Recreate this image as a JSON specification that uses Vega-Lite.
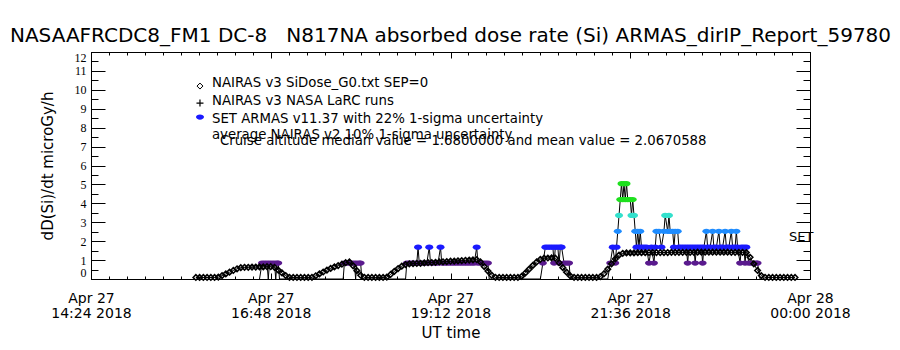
{
  "$schema": "https://vega.github.io/schema/vega-lite/v6.json",
  "width": 719,
  "height": 227,
  "autosize": {"type": "none"},
  "padding": {"left": 91, "top": 52, "right": 90, "bottom": 71},
  "background": "white",
  "title": {"text": "NASAAFRCDC8_FM1 DC-8\u00a0\u00a0\u00a0N817NA absorbed dose rate (Si) ARMAS_dirIP_Report_59780", "font": "DejaVu Sans", "fontSize": 20, "fontWeight": "normal", "color": "black", "anchor": "middle", "frame": "group", "baseline": "alphabetic", "offset": -7, "dy": 4},
  "config": {"font": "DejaVu Sans", "view": {"stroke": null}, "axis": {"grid": false, "domainColor": "black", "tickColor": "black", "labelColor": "black", "titleColor": "black", "titleFontWeight": "normal", "domainWidth": 1, "tickWidth": 1}},
  "datasets": {
    "nairas": [
      {"t":"2018-04-27T15:48:00Z","v":0.08},{"t":"2018-04-27T15:51:00Z","v":0.08},{"t":"2018-04-27T15:54:00Z","v":0.08},{"t":"2018-04-27T15:57:00Z","v":0.08},{"t":"2018-04-27T16:00:00Z","v":0.08},{"t":"2018-04-27T16:03:00Z","v":0.08},{"t":"2018-04-27T16:06:00Z","v":0.10},{"t":"2018-04-27T16:09:00Z","v":0.18},{"t":"2018-04-27T16:12:00Z","v":0.27},{"t":"2018-04-27T16:15:00Z","v":0.36},{"t":"2018-04-27T16:18:00Z","v":0.45},{"t":"2018-04-27T16:21:00Z","v":0.54},{"t":"2018-04-27T16:24:00Z","v":0.60},{"t":"2018-04-27T16:27:00Z","v":0.62},{"t":"2018-04-27T16:30:00Z","v":0.62},{"t":"2018-04-27T16:33:00Z","v":0.63},{"t":"2018-04-27T16:36:00Z","v":0.63},{"t":"2018-04-27T16:39:00Z","v":0.64},{"t":"2018-04-27T16:42:00Z","v":0.64},{"t":"2018-04-27T16:45:00Z","v":0.65},{"t":"2018-04-27T16:48:00Z","v":0.65},{"t":"2018-04-27T16:51:00Z","v":0.62},{"t":"2018-04-27T16:54:00Z","v":0.47},{"t":"2018-04-27T16:57:00Z","v":0.32},{"t":"2018-04-27T17:00:00Z","v":0.18},{"t":"2018-04-27T17:03:00Z","v":0.09},{"t":"2018-04-27T17:06:00Z","v":0.08},{"t":"2018-04-27T17:09:00Z","v":0.08},{"t":"2018-04-27T17:12:00Z","v":0.08},{"t":"2018-04-27T17:15:00Z","v":0.08},{"t":"2018-04-27T17:18:00Z","v":0.08},{"t":"2018-04-27T17:21:00Z","v":0.09},{"t":"2018-04-27T17:24:00Z","v":0.17},{"t":"2018-04-27T17:27:00Z","v":0.27},{"t":"2018-04-27T17:30:00Z","v":0.37},{"t":"2018-04-27T17:33:00Z","v":0.47},{"t":"2018-04-27T17:36:00Z","v":0.56},{"t":"2018-04-27T17:39:00Z","v":0.64},{"t":"2018-04-27T17:42:00Z","v":0.71},{"t":"2018-04-27T17:45:00Z","v":0.78},{"t":"2018-04-27T17:48:00Z","v":0.86},{"t":"2018-04-27T17:51:00Z","v":0.90},{"t":"2018-04-27T17:54:00Z","v":0.70},{"t":"2018-04-27T17:57:00Z","v":0.44},{"t":"2018-04-27T18:00:00Z","v":0.20},{"t":"2018-04-27T18:03:00Z","v":0.09},{"t":"2018-04-27T18:06:00Z","v":0.08},{"t":"2018-04-27T18:09:00Z","v":0.08},{"t":"2018-04-27T18:12:00Z","v":0.08},{"t":"2018-04-27T18:15:00Z","v":0.08},{"t":"2018-04-27T18:18:00Z","v":0.08},{"t":"2018-04-27T18:21:00Z","v":0.10},{"t":"2018-04-27T18:24:00Z","v":0.24},{"t":"2018-04-27T18:27:00Z","v":0.40},{"t":"2018-04-27T18:30:00Z","v":0.55},{"t":"2018-04-27T18:33:00Z","v":0.68},{"t":"2018-04-27T18:36:00Z","v":0.76},{"t":"2018-04-27T18:39:00Z","v":0.80},{"t":"2018-04-27T18:42:00Z","v":0.81},{"t":"2018-04-27T18:45:00Z","v":0.82},{"t":"2018-04-27T18:48:00Z","v":0.83},{"t":"2018-04-27T18:51:00Z","v":0.85},{"t":"2018-04-27T18:54:00Z","v":0.86},{"t":"2018-04-27T18:57:00Z","v":0.87},{"t":"2018-04-27T19:00:00Z","v":0.88},{"t":"2018-04-27T19:03:00Z","v":0.90},{"t":"2018-04-27T19:06:00Z","v":0.91},{"t":"2018-04-27T19:09:00Z","v":0.92},{"t":"2018-04-27T19:12:00Z","v":0.94},{"t":"2018-04-27T19:15:00Z","v":0.95},{"t":"2018-04-27T19:18:00Z","v":0.96},{"t":"2018-04-27T19:21:00Z","v":0.97},{"t":"2018-04-27T19:24:00Z","v":0.99},{"t":"2018-04-27T19:27:00Z","v":1.00},{"t":"2018-04-27T19:30:00Z","v":1.01},{"t":"2018-04-27T19:33:00Z","v":1.02},{"t":"2018-04-27T19:36:00Z","v":0.90},{"t":"2018-04-27T19:39:00Z","v":0.66},{"t":"2018-04-27T19:42:00Z","v":0.42},{"t":"2018-04-27T19:45:00Z","v":0.20},{"t":"2018-04-27T19:48:00Z","v":0.09},{"t":"2018-04-27T19:51:00Z","v":0.08},{"t":"2018-04-27T19:54:00Z","v":0.08},{"t":"2018-04-27T19:57:00Z","v":0.08},{"t":"2018-04-27T20:00:00Z","v":0.08},{"t":"2018-04-27T20:03:00Z","v":0.08},{"t":"2018-04-27T20:06:00Z","v":0.08},{"t":"2018-04-27T20:09:00Z","v":0.14},{"t":"2018-04-27T20:12:00Z","v":0.32},{"t":"2018-04-27T20:15:00Z","v":0.52},{"t":"2018-04-27T20:18:00Z","v":0.72},{"t":"2018-04-27T20:21:00Z","v":0.90},{"t":"2018-04-27T20:24:00Z","v":1.04},{"t":"2018-04-27T20:27:00Z","v":1.10},{"t":"2018-04-27T20:30:00Z","v":1.11},{"t":"2018-04-27T20:33:00Z","v":1.12},{"t":"2018-04-27T20:36:00Z","v":1.10},{"t":"2018-04-27T20:39:00Z","v":0.86},{"t":"2018-04-27T20:42:00Z","v":0.60},{"t":"2018-04-27T20:45:00Z","v":0.36},{"t":"2018-04-27T20:48:00Z","v":0.16},{"t":"2018-04-27T20:51:00Z","v":0.09},{"t":"2018-04-27T20:54:00Z","v":0.08},{"t":"2018-04-27T20:57:00Z","v":0.08},{"t":"2018-04-27T21:00:00Z","v":0.08},{"t":"2018-04-27T21:03:00Z","v":0.08},{"t":"2018-04-27T21:06:00Z","v":0.08},{"t":"2018-04-27T21:09:00Z","v":0.08},{"t":"2018-04-27T21:12:00Z","v":0.12},{"t":"2018-04-27T21:15:00Z","v":0.28},{"t":"2018-04-27T21:18:00Z","v":0.52},{"t":"2018-04-27T21:21:00Z","v":0.80},{"t":"2018-04-27T21:24:00Z","v":1.06},{"t":"2018-04-27T21:27:00Z","v":1.26},{"t":"2018-04-27T21:30:00Z","v":1.36},{"t":"2018-04-27T21:33:00Z","v":1.38},{"t":"2018-04-27T21:36:00Z","v":1.38},{"t":"2018-04-27T21:39:00Z","v":1.38},{"t":"2018-04-27T21:42:00Z","v":1.39},{"t":"2018-04-27T21:45:00Z","v":1.39},{"t":"2018-04-27T21:48:00Z","v":1.39},{"t":"2018-04-27T21:51:00Z","v":1.40},{"t":"2018-04-27T21:54:00Z","v":1.40},{"t":"2018-04-27T21:57:00Z","v":1.40},{"t":"2018-04-27T22:00:00Z","v":1.40},{"t":"2018-04-27T22:03:00Z","v":1.40},{"t":"2018-04-27T22:06:00Z","v":1.40},{"t":"2018-04-27T22:09:00Z","v":1.41},{"t":"2018-04-27T22:12:00Z","v":1.41},{"t":"2018-04-27T22:15:00Z","v":1.41},{"t":"2018-04-27T22:18:00Z","v":1.41},{"t":"2018-04-27T22:21:00Z","v":1.41},{"t":"2018-04-27T22:24:00Z","v":1.41},{"t":"2018-04-27T22:27:00Z","v":1.41},{"t":"2018-04-27T22:30:00Z","v":1.42},{"t":"2018-04-27T22:33:00Z","v":1.42},{"t":"2018-04-27T22:36:00Z","v":1.42},{"t":"2018-04-27T22:39:00Z","v":1.42},{"t":"2018-04-27T22:42:00Z","v":1.42},{"t":"2018-04-27T22:45:00Z","v":1.42},{"t":"2018-04-27T22:48:00Z","v":1.42},{"t":"2018-04-27T22:51:00Z","v":1.42},{"t":"2018-04-27T22:54:00Z","v":1.42},{"t":"2018-04-27T22:57:00Z","v":1.41},{"t":"2018-04-27T23:00:00Z","v":1.41},{"t":"2018-04-27T23:03:00Z","v":1.41},{"t":"2018-04-27T23:06:00Z","v":1.41},{"t":"2018-04-27T23:09:00Z","v":1.40},{"t":"2018-04-27T23:12:00Z","v":1.15},{"t":"2018-04-27T23:15:00Z","v":0.80},{"t":"2018-04-27T23:18:00Z","v":0.45},{"t":"2018-04-27T23:21:00Z","v":0.18},{"t":"2018-04-27T23:24:00Z","v":0.09},{"t":"2018-04-27T23:27:00Z","v":0.08},{"t":"2018-04-27T23:30:00Z","v":0.08},{"t":"2018-04-27T23:33:00Z","v":0.08},{"t":"2018-04-27T23:36:00Z","v":0.08},{"t":"2018-04-27T23:39:00Z","v":0.08},{"t":"2018-04-27T23:42:00Z","v":0.08},{"t":"2018-04-27T23:45:00Z","v":0.08},{"t":"2018-04-27T23:48:00Z","v":0.08}
    ],
    "armas": [
      {"t":"2018-04-27T16:39:00Z","v":0},{"t":"2018-04-27T16:41:00Z","v":0.84},{"t":"2018-04-27T16:43:00Z","v":0.84},{"t":"2018-04-27T16:45:00Z","v":0.84},{"t":"2018-04-27T16:46:00Z","v":0},{"t":"2018-04-27T16:47:00Z","v":0.84},{"t":"2018-04-27T16:49:00Z","v":0.84},{"t":"2018-04-27T16:51:00Z","v":0.84},{"t":"2018-04-27T16:52:00Z","v":0},{"t":"2018-04-27T16:53:00Z","v":0.84},{"t":"2018-04-27T16:54:00Z","v":0.84},{"t":"2018-04-27T16:55:00Z","v":0},
      {"t":"2018-04-27T17:46:00Z","v":0},{"t":"2018-04-27T17:47:00Z","v":0.84},{"t":"2018-04-27T17:49:00Z","v":0.84},{"t":"2018-04-27T17:51:00Z","v":0.84},{"t":"2018-04-27T17:53:00Z","v":0.84},{"t":"2018-04-27T17:55:00Z","v":0.84},{"t":"2018-04-27T17:56:00Z","v":0},{"t":"2018-04-27T17:57:00Z","v":0.84},{"t":"2018-04-27T17:59:00Z","v":0.84},{"t":"2018-04-27T18:00:00Z","v":0.84},{"t":"2018-04-27T18:01:00Z","v":0},
      {"t":"2018-04-27T18:36:00Z","v":0},{"t":"2018-04-27T18:37:00Z","v":0.84},{"t":"2018-04-27T18:39:00Z","v":0.84},{"t":"2018-04-27T18:41:00Z","v":0.84},{"t":"2018-04-27T18:43:00Z","v":0.84},{"t":"2018-04-27T18:45:00Z","v":0.84},{"t":"2018-04-27T18:46:00Z","v":1.68},{"t":"2018-04-27T18:47:00Z","v":0.84},{"t":"2018-04-27T18:49:00Z","v":0.84},{"t":"2018-04-27T18:51:00Z","v":0.84},{"t":"2018-04-27T18:53:00Z","v":0.84},{"t":"2018-04-27T18:55:00Z","v":1.68},{"t":"2018-04-27T18:56:00Z","v":0.84},{"t":"2018-04-27T18:58:00Z","v":0.84},{"t":"2018-04-27T19:00:00Z","v":0.84},{"t":"2018-04-27T19:02:00Z","v":0.84},{"t":"2018-04-27T19:04:00Z","v":1.68},{"t":"2018-04-27T19:05:00Z","v":0.84},{"t":"2018-04-27T19:07:00Z","v":0.84},{"t":"2018-04-27T19:09:00Z","v":0.84},{"t":"2018-04-27T19:11:00Z","v":0.84},{"t":"2018-04-27T19:13:00Z","v":0.84},{"t":"2018-04-27T19:15:00Z","v":0.84},{"t":"2018-04-27T19:17:00Z","v":0.84},{"t":"2018-04-27T19:19:00Z","v":0.84},{"t":"2018-04-27T19:21:00Z","v":0.84},{"t":"2018-04-27T19:23:00Z","v":0.84},{"t":"2018-04-27T19:25:00Z","v":0.84},{"t":"2018-04-27T19:27:00Z","v":0.84},{"t":"2018-04-27T19:29:00Z","v":0.84},{"t":"2018-04-27T19:31:00Z","v":0.84},{"t":"2018-04-27T19:33:00Z","v":1.68},{"t":"2018-04-27T19:34:00Z","v":0.84},{"t":"2018-04-27T19:36:00Z","v":0.84},{"t":"2018-04-27T19:38:00Z","v":0.84},{"t":"2018-04-27T19:40:00Z","v":0.84},{"t":"2018-04-27T19:42:00Z","v":0.84},{"t":"2018-04-27T19:43:00Z","v":0},
      {"t":"2018-04-27T20:24:00Z","v":0},{"t":"2018-04-27T20:26:00Z","v":0.84},{"t":"2018-04-27T20:28:00Z","v":1.68},{"t":"2018-04-27T20:30:00Z","v":1.68},{"t":"2018-04-27T20:32:00Z","v":1.68},{"t":"2018-04-27T20:34:00Z","v":1.68},{"t":"2018-04-27T20:35:00Z","v":0.84},{"t":"2018-04-27T20:36:00Z","v":1.68},{"t":"2018-04-27T20:38:00Z","v":1.68},{"t":"2018-04-27T20:39:00Z","v":0.84},{"t":"2018-04-27T20:40:00Z","v":1.68},{"t":"2018-04-27T20:41:00Z","v":1.68},{"t":"2018-04-27T20:43:00Z","v":0.84},{"t":"2018-04-27T20:45:00Z","v":0.84},{"t":"2018-04-27T20:47:00Z","v":0.84},{"t":"2018-04-27T20:48:00Z","v":0},
      {"t":"2018-04-27T21:18:00Z","v":0},{"t":"2018-04-27T21:20:00Z","v":0.84},{"t":"2018-04-27T21:22:00Z","v":1.68},{"t":"2018-04-27T21:24:00Z","v":0.84},{"t":"2018-04-27T21:25:00Z","v":1.68},{"t":"2018-04-27T21:26:00Z","v":2.52},{"t":"2018-04-27T21:27:00Z","v":3.36},{"t":"2018-04-27T21:28:00Z","v":4.2},{"t":"2018-04-27T21:29:00Z","v":5.04},{"t":"2018-04-27T21:30:00Z","v":4.2},{"t":"2018-04-27T21:31:00Z","v":5.04},{"t":"2018-04-27T21:32:00Z","v":4.2},{"t":"2018-04-27T21:33:00Z","v":5.04},{"t":"2018-04-27T21:34:00Z","v":4.2},{"t":"2018-04-27T21:36:00Z","v":4.2},{"t":"2018-04-27T21:37:00Z","v":3.36},{"t":"2018-04-27T21:38:00Z","v":4.2},{"t":"2018-04-27T21:39:00Z","v":3.36},{"t":"2018-04-27T21:40:00Z","v":2.52},{"t":"2018-04-27T21:41:00Z","v":1.68},{"t":"2018-04-27T21:42:00Z","v":2.52},{"t":"2018-04-27T21:43:00Z","v":1.68},{"t":"2018-04-27T21:44:00Z","v":2.52},{"t":"2018-04-27T21:45:00Z","v":1.68},{"t":"2018-04-27T21:47:00Z","v":1.68},{"t":"2018-04-27T21:49:00Z","v":1.68},{"t":"2018-04-27T21:51:00Z","v":0.84},{"t":"2018-04-27T21:53:00Z","v":1.68},{"t":"2018-04-27T21:55:00Z","v":0.84},{"t":"2018-04-27T21:56:00Z","v":1.68},{"t":"2018-04-27T21:57:00Z","v":2.52},{"t":"2018-04-27T21:59:00Z","v":2.52},{"t":"2018-04-27T22:01:00Z","v":1.68},{"t":"2018-04-27T22:03:00Z","v":2.52},{"t":"2018-04-27T22:04:00Z","v":3.36},{"t":"2018-04-27T22:06:00Z","v":2.52},{"t":"2018-04-27T22:07:00Z","v":3.36},{"t":"2018-04-27T22:08:00Z","v":2.52},{"t":"2018-04-27T22:10:00Z","v":2.52},{"t":"2018-04-27T22:11:00Z","v":1.68},{"t":"2018-04-27T22:12:00Z","v":2.52},{"t":"2018-04-27T22:14:00Z","v":2.52},{"t":"2018-04-27T22:15:00Z","v":1.68},{"t":"2018-04-27T22:17:00Z","v":1.68},{"t":"2018-04-27T22:19:00Z","v":1.68},{"t":"2018-04-27T22:21:00Z","v":1.68},{"t":"2018-04-27T22:22:00Z","v":0.84},{"t":"2018-04-27T22:23:00Z","v":1.68},{"t":"2018-04-27T22:25:00Z","v":1.68},{"t":"2018-04-27T22:27:00Z","v":1.68},{"t":"2018-04-27T22:28:00Z","v":0.84},{"t":"2018-04-27T22:29:00Z","v":1.68},{"t":"2018-04-27T22:31:00Z","v":1.68},{"t":"2018-04-27T22:33:00Z","v":1.68},{"t":"2018-04-27T22:34:00Z","v":0.84},{"t":"2018-04-27T22:35:00Z","v":1.68},{"t":"2018-04-27T22:37:00Z","v":2.52},{"t":"2018-04-27T22:38:00Z","v":1.68},{"t":"2018-04-27T22:40:00Z","v":1.68},{"t":"2018-04-27T22:42:00Z","v":2.52},{"t":"2018-04-27T22:43:00Z","v":1.68},{"t":"2018-04-27T22:45:00Z","v":1.68},{"t":"2018-04-27T22:47:00Z","v":2.52},{"t":"2018-04-27T22:48:00Z","v":1.68},{"t":"2018-04-27T22:50:00Z","v":1.68},{"t":"2018-04-27T22:52:00Z","v":2.52},{"t":"2018-04-27T22:53:00Z","v":1.68},{"t":"2018-04-27T22:55:00Z","v":1.68},{"t":"2018-04-27T22:57:00Z","v":2.52},{"t":"2018-04-27T22:58:00Z","v":1.68},{"t":"2018-04-27T23:00:00Z","v":1.68},{"t":"2018-04-27T23:01:00Z","v":2.52},{"t":"2018-04-27T23:02:00Z","v":1.68},{"t":"2018-04-27T23:04:00Z","v":0.84},{"t":"2018-04-27T23:05:00Z","v":1.68},{"t":"2018-04-27T23:07:00Z","v":1.68},{"t":"2018-04-27T23:08:00Z","v":0.84},{"t":"2018-04-27T23:09:00Z","v":1.68},{"t":"2018-04-27T23:11:00Z","v":0.84},{"t":"2018-04-27T23:13:00Z","v":0.84},{"t":"2018-04-27T23:15:00Z","v":0.84},{"t":"2018-04-27T23:17:00Z","v":0.84},{"t":"2018-04-27T23:18:00Z","v":0.84},{"t":"2018-04-27T23:20:00Z","v":0}
    ]
  },
  "resolve": {"scale": {"x": "shared", "y": "shared"}, "axis": {"x": "independent", "y": "independent"}},
  "layer": [
    {
      "data": {"name": "armas"},
      "mark": {"type": "line", "color": "black", "strokeWidth": 1},
      "encoding": {
        "x": {"field": "t", "type": "temporal", "scale": {"type": "utc", "domain": [{"year": 2018, "month": 4, "date": 27, "hours": 14, "minutes": 24, "utc": true}, {"year": 2018, "month": 4, "date": 28, "hours": 0, "minutes": 0, "utc": true}], "nice": false},
          "axis": {"orient": "bottom", "values": [1524839040000, 1524847680000, 1524856320000, 1524864960000, 1524873600000], "tickSize": -6, "labelExpr": "[utcFormat(datum.value, '%b %d'), utcFormat(datum.value, '%H:%M %Y')]", "labelFont": "DejaVu Sans", "labelFontSize": 14, "labelLineHeight": 15, "labelBaseline": "top", "labelPadding": 18, "labelFlush": false, "labelOverlap": false, "title": "UT time", "titleFont": "DejaVu Sans", "titleFontSize": 15, "titlePadding": 5}},
        "y": {"field": "v", "type": "quantitative", "scale": {"domain": [0, 12], "nice": false, "zero": false},
          "axis": {"orient": "left", "values": [0, 1, 2, 3, 4, 5, 6, 7, 8, 9, 10, 11, 12], "tickSize": -14, "labelFont": "Liberation Sans Narrow", "labelFontSize": 12, "labelPadding": 19, "labelFlush": true, "labelOverlap": false, "title": "dD(Si)/dt microGy/h", "titleFont": "DejaVu Sans", "titleFontSize": 15, "titlePadding": 19}}
      }
    },
    {
      "data": {"name": "armas"},
      "transform": [{"filter": "datum.v > 0"}],
      "mark": {"type": "point", "shape": "M-1,0A1,0.65,0,1,0,1,0A1,0.65,0,1,0,-1,0Z", "filled": true, "size": 64, "opacity": 1, "strokeWidth": 0},
      "encoding": {
        "x": {"field": "t", "type": "temporal", "scale": {"type": "utc", "domain": [{"year": 2018, "month": 4, "date": 27, "hours": 14, "minutes": 24, "utc": true}, {"year": 2018, "month": 4, "date": 28, "hours": 0, "minutes": 0, "utc": true}], "nice": false},
          "axis": {"orient": "top", "values": [1524839040000,1524839904000,1524840768000,1524841632000,1524842496000,1524843360000,1524844224000,1524845088000,1524845952000,1524846816000,1524847680000,1524848544000,1524849408000,1524850272000,1524851136000,1524852000000,1524852864000,1524853728000,1524854592000,1524855456000,1524856320000,1524857184000,1524858048000,1524858912000,1524859776000,1524860640000,1524861504000,1524862368000,1524863232000,1524864096000,1524864960000,1524865824000,1524866688000,1524867552000,1524868416000,1524869280000,1524870144000,1524871008000,1524871872000,1524872736000,1524873600000], "tickSize": -3, "labels": false, "title": null}},
        "y": {"field": "v", "type": "quantitative", "scale": {"domain": [0, 12], "nice": false, "zero": false},
          "axis": {"orient": "right", "values": [0.5, 1.5, 2.5, 3.5, 4.5, 5.5, 6.5, 7.5, 8.5, 9.5, 10.5, 11.5], "tickSize": -7, "labels": false, "title": null}},
        "color": {"field": "v", "type": "ordinal", "legend": null, "scale": {"domain": [0.84, 1.68, 2.52, 3.36, 4.2, 5.04], "range": ["#5a1a8e", "#1a1aff", "#1e8cff", "#33e0cc", "#1ee01e", "#1ee01e"]}}
      }
    },
    {
      "data": {"name": "nairas"},
      "mark": {"type": "line", "color": "black", "strokeWidth": 1},
      "encoding": {
        "x": {"field": "t", "type": "temporal", "scale": {"type": "utc", "domain": [{"year": 2018, "month": 4, "date": 27, "hours": 14, "minutes": 24, "utc": true}, {"year": 2018, "month": 4, "date": 28, "hours": 0, "minutes": 0, "utc": true}], "nice": false},
          "axis": {"orient": "top", "values": [1524839040000, 1524847680000, 1524856320000, 1524864960000, 1524873600000], "tickSize": -6, "labels": false, "title": null}},
        "y": {"field": "v", "type": "quantitative", "scale": {"domain": [0, 12], "nice": false, "zero": false},
          "axis": {"orient": "right", "values": [0, 1, 2, 3, 4, 5, 6, 7, 8, 9, 10, 11, 12], "tickSize": -14, "labels": false, "title": null}}
      }
    },
    {
      "data": {"name": "nairas"},
      "mark": {"type": "point", "shape": "diamond", "filled": false, "size": 30, "opacity": 1, "color": "black", "strokeWidth": 1.6},
      "encoding": {
        "x": {"field": "t", "type": "temporal", "scale": {"type": "utc", "domain": [{"year": 2018, "month": 4, "date": 27, "hours": 14, "minutes": 24, "utc": true}, {"year": 2018, "month": 4, "date": 28, "hours": 0, "minutes": 0, "utc": true}], "nice": false},
          "axis": {"orient": "bottom", "values": [1524839040000,1524839904000,1524840768000,1524841632000,1524842496000,1524843360000,1524844224000,1524845088000,1524845952000,1524846816000,1524847680000,1524848544000,1524849408000,1524850272000,1524851136000,1524852000000,1524852864000,1524853728000,1524854592000,1524855456000,1524856320000,1524857184000,1524858048000,1524858912000,1524859776000,1524860640000,1524861504000,1524862368000,1524863232000,1524864096000,1524864960000,1524865824000,1524866688000,1524867552000,1524868416000,1524869280000,1524870144000,1524871008000,1524871872000,1524872736000,1524873600000], "tickSize": -3, "labels": false, "title": null}},
        "y": {"field": "v", "type": "quantitative", "scale": {"domain": [0, 12], "nice": false, "zero": false},
          "axis": {"orient": "left", "values": [0.5, 1.5, 2.5, 3.5, 4.5, 5.5, 6.5, 7.5, 8.5, 9.5, 10.5, 11.5], "tickSize": -7, "labels": false, "title": null}}
      }
    },
    {
      "data": {"values": [{}]},
      "mark": {"type": "point", "shape": "diamond", "filled": false, "size": 36, "opacity": 1, "color": "black", "strokeWidth": 1},
      "encoding": {
        "x": {"datum": {"year": 2018, "month": 4, "date": 27, "hours": 15, "minutes": 51, "seconds": 18, "utc": true}, "type": "temporal", "axis": null},
        "y": {"datum": 10.2, "type": "quantitative", "axis": null}
      }
    },
    {
      "data": {"values": [{}]},
      "mark": {"type": "point", "shape": "M-1,0H1M0,-1V1", "filled": false, "size": 49, "opacity": 1, "color": "black", "strokeWidth": 1.2},
      "encoding": {
        "x": {"datum": {"year": 2018, "month": 4, "date": 27, "hours": 15, "minutes": 51, "seconds": 18, "utc": true}, "type": "temporal", "axis": null},
        "y": {"datum": 9.3, "type": "quantitative", "axis": null}
      }
    },
    {
      "data": {"values": [{}]},
      "mark": {"type": "point", "shape": "M-1,0A1,0.65,0,1,0,1,0A1,0.65,0,1,0,-1,0Z", "filled": true, "size": 64, "opacity": 1, "color": "#1a1aff", "strokeWidth": 0},
      "encoding": {
        "x": {"datum": {"year": 2018, "month": 4, "date": 27, "hours": 15, "minutes": 51, "seconds": 18, "utc": true}, "type": "temporal", "axis": null},
        "y": {"datum": 8.56, "type": "quantitative", "axis": null}
      }
    },
    {
      "data": {"values": [{}]},
      "mark": {"type": "text", "text": "NAIRAS v3 SiDose_G0.txt SEP=0", "font": "DejaVu Sans", "fontSize": 13.3, "align": "left", "baseline": "alphabetic", "color": "black"},
      "encoding": {
        "x": {"datum": {"year": 2018, "month": 4, "date": 27, "hours": 16, "minutes": 0, "seconds": 54, "utc": true}, "type": "temporal", "axis": null},
        "y": {"datum": 10.16, "type": "quantitative", "axis": null}
      }
    },
    {
      "data": {"values": [{}]},
      "mark": {"type": "text", "text": "NAIRAS v3 NASA LaRC runs", "font": "DejaVu Sans", "fontSize": 13.3, "align": "left", "baseline": "alphabetic", "color": "black"},
      "encoding": {
        "x": {"datum": {"year": 2018, "month": 4, "date": 27, "hours": 16, "minutes": 0, "seconds": 54, "utc": true}, "type": "temporal", "axis": null},
        "y": {"datum": 9.2, "type": "quantitative", "axis": null}
      }
    },
    {
      "data": {"values": [{}]},
      "mark": {"type": "text", "text": "SET ARMAS v11.37 with 22% 1-sigma uncertainty", "font": "DejaVu Sans", "fontSize": 13.3, "align": "left", "baseline": "alphabetic", "color": "black"},
      "encoding": {
        "x": {"datum": {"year": 2018, "month": 4, "date": 27, "hours": 16, "minutes": 0, "seconds": 54, "utc": true}, "type": "temporal", "axis": null},
        "y": {"datum": 8.23, "type": "quantitative", "axis": null}
      }
    },
    {
      "data": {"values": [{}]},
      "mark": {"type": "text", "text": "average NAIRAS v2 10% 1-sigma uncertainty", "font": "DejaVu Sans", "fontSize": 13.3, "align": "left", "baseline": "alphabetic", "color": "black"},
      "encoding": {
        "x": {"datum": {"year": 2018, "month": 4, "date": 27, "hours": 16, "minutes": 0, "seconds": 54, "utc": true}, "type": "temporal", "axis": null},
        "y": {"datum": 7.4, "type": "quantitative", "axis": null}
      }
    },
    {
      "data": {"values": [{}]},
      "mark": {"type": "text", "text": "Cruise altitude median value = 1.6800000 and mean value = 2.0670588", "font": "DejaVu Sans", "fontSize": 13.3, "align": "left", "baseline": "alphabetic", "color": "black"},
      "encoding": {
        "x": {"datum": {"year": 2018, "month": 4, "date": 27, "hours": 16, "minutes": 7, "seconds": 18, "utc": true}, "type": "temporal", "axis": null},
        "y": {"datum": 7.08, "type": "quantitative", "axis": null}
      }
    },
    {
      "data": {"values": [{}]},
      "mark": {"type": "text", "text": "SET", "font": "DejaVu Sans", "fontSize": 13, "align": "left", "baseline": "alphabetic", "color": "black"},
      "encoding": {
        "x": {"datum": {"year": 2018, "month": 4, "date": 27, "hours": 23, "minutes": 43, "seconds": 12, "utc": true}, "type": "temporal", "axis": null},
        "y": {"datum": 2.02, "type": "quantitative", "axis": null}
      }
    }
  ]
}
